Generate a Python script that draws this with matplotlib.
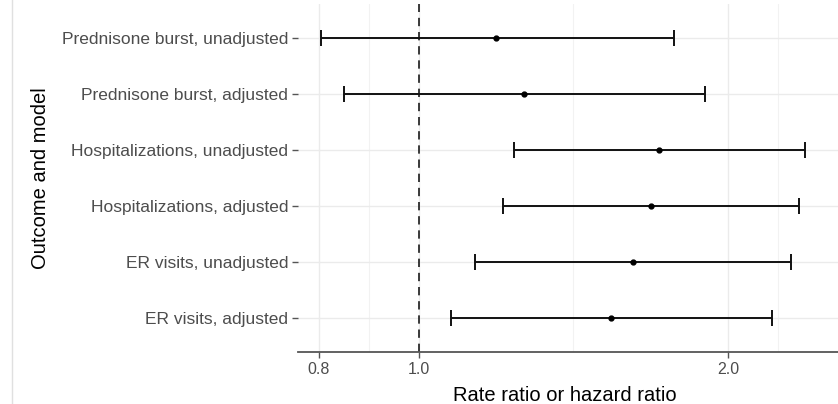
import numpy as np
import matplotlib.pyplot as plt
from matplotlib.ticker import FixedLocator, NullFormatter

plt.rcParams['font.family'] = ['Liberation Sans', 'DejaVu Sans']

# rows, top to bottom
labels = ["Prednisone burst, unadjusted", "Prednisone burst, adjusted",
          "Hospitalizations, unadjusted", "Hospitalizations, adjusted",
          "ER visits, unadjusted", "ER visits, adjusted"]
estimate = [1.19, 1.266, 1.713, 1.682, 1.618, 1.538]
lower = [0.804, 0.846, 1.238, 1.209, 1.136, 1.076]
upper = [1.771, 1.898, 2.377, 2.346, 2.305, 2.206]
xticks = [0.8, 1.0, 2.0]
xtick_labels = ["0.8", "1.0", "2.0"]

W, H = 838, 404
fig = plt.figure(figsize=(W / 100, H / 100), dpi=100)
# panel in pixels: left 298, right 838, top 4, bottom 352
ax = fig.add_axes([298 / W, (H - 352) / H, (838 - 298) / W, (352 - 4) / H])

# log axis, limits chosen from pixel positions
px_per_dec = 1028.0
x0 = 418.5
ax.set_xscale('log')
ax.set_xlim(10 ** ((298 - x0) / px_per_dec), 10 ** ((838 - x0) / px_per_dec))
n = len(labels)
ypos = np.arange(n)[::-1]
ax.set_ylim(-0.6, n - 1 + 0.6)

# grid: majors at breaks, minors at midpoints in log space
ax.xaxis.set_major_locator(FixedLocator(xticks))
lx = np.log10(xticks)
step = lx[1] - lx[0]
ext = np.concatenate([[lx[0] - step], lx, [lx[-1] + step]])
minors = 10 ** ((ext[:-1] + ext[1:]) / 2)
ax.xaxis.set_minor_locator(FixedLocator(minors))
ax.xaxis.set_minor_formatter(NullFormatter())
ax.set_xticklabels(xtick_labels)
ax.grid(True, which='major', color='#ebebeb', lw=1.0)
ax.grid(True, which='minor', color='#f2f2f2', lw=0.8)
ax.set_axisbelow(True)

ax.axvline(1.0, color='#1a1a1a', lw=1.2, ls=(0, (5, 3.5)), zorder=2)

err = [np.array(estimate) - np.array(lower), np.array(upper) - np.array(estimate)]
ax.errorbar(estimate, ypos, xerr=err, fmt='o', color='black', ms=3.5,
            elinewidth=1.4, capsize=5.5, capthick=1.4, ecolor='#111111', zorder=3)

ax.set_yticks(ypos)
ax.set_yticklabels(labels)

for s in ['top', 'right', 'left']:
    ax.spines[s].set_visible(False)
ax.spines['bottom'].set_color('#555555')
ax.spines['bottom'].set_linewidth(1.3)

ax.tick_params(axis='x', which='major', colors='#555555', length=4, width=1.0,
               labelsize=11.5, labelcolor='#4d4d4d', pad=3)
ax.tick_params(axis='x', which='minor', length=0)
ax.tick_params(axis='y', colors='#555555', length=4, width=1.0,
               labelsize=12.5, labelcolor='#4d4d4d', pad=3)

ax.set_xlabel("Rate ratio or hazard ratio", fontsize=14.5, color='black')
ax.set_ylabel("Outcome and model", fontsize=14.5, color='black')
ax.xaxis.set_label_coords((565 - 298) / 540, (352 - 386) / 348)
ax.yaxis.set_label_coords((50 - 298) / 540, 0.5)

# thin frame line on the left of the capture
fig.add_artist(plt.Line2D([12 / W, 12 / W], [0, 1], color='#e0e0e0', lw=1.0))

fig.savefig("out.png", dpi=100)
